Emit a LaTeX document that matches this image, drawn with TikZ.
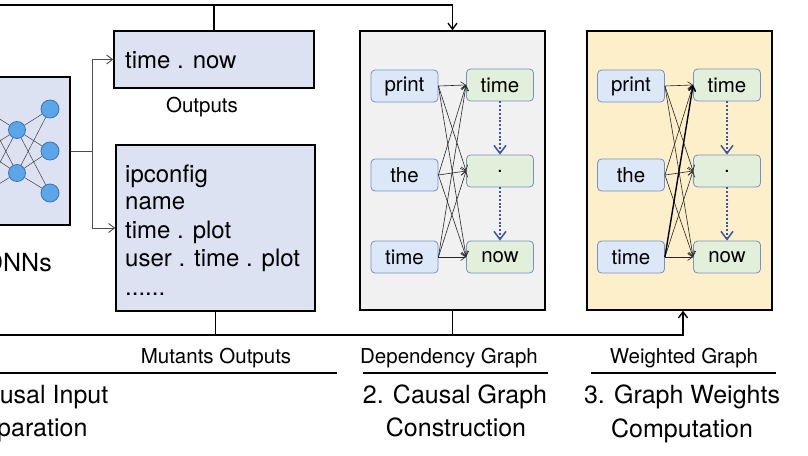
\documentclass[tikz,border=0pt]{standalone}
\usepackage{fontspec}
\setmainfont{TeX Gyre Heros}
\usetikzlibrary{arrows.meta}
\definecolor{boxblue}{HTML}{DCE2F2}
\definecolor{depgray}{HTML}{F1F1F1}
\definecolor{wyellow}{HTML}{FCEFC9}
\definecolor{lblue}{HTML}{DCE8F8}
\definecolor{lgreen}{HTML}{E2EFDA}
\definecolor{nborder}{HTML}{7890C8}
\definecolor{dotblue}{HTML}{3B56A6}
\definecolor{neuron}{HTML}{5AA6E8}
\definecolor{neuronb}{HTML}{3C74B4}
\begin{document}
\begin{tikzpicture}[x=1pt,y=-1pt,
  bigbox/.style={draw=black, line width=1.4pt, inner sep=0pt},
  wordnode/.style={draw=nborder, line width=0.8pt, rounded corners=4pt, minimum width=67pt, minimum height=32pt, inner sep=0pt, font=\fontsize{20.5}{22}\selectfont},
  lw/.style={wordnode, fill=lblue},
  rw/.style={wordnode, fill=lgreen},
  edgethin/.style={draw=black!85, line width=0.6pt, -{Straight Barb[length=5pt,width=7pt]}},
  edgethick/.style={draw=black, line width=1.4pt, -{Straight Barb[length=5pt,width=7pt]}},
  dotarrow/.style={draw=dotblue, line width=2.8pt, dash pattern=on 2pt off 1.8pt, -{Straight Barb[length=8pt,width=12pt,line width=1.5pt]}},
  conn/.style={draw=black!70, line width=0.9pt, -{Straight Barb[length=6pt,width=9pt]}},
  bus/.style={draw=black, line width=1.4pt},
  busarrow/.style={bus, -{Straight Barb[length=6pt,width=9pt]}},
  neur/.style={circle, draw=neuronb, fill=neuron, line width=0.8pt, inner sep=0pt},
  txt/.style={font=\fontsize{24}{28}\selectfont, inner sep=0pt},
  lbl/.style={font=\fontsize{20.5}{24}\selectfont, inner sep=0pt},
  ttl/.style={font=\fontsize{25}{33}\selectfont, inner sep=0pt},
]
\useasboundingbox (0,0) rectangle (808,455);
\clip (0,0) rectangle (808,455);
\fill[white] (0,0) rectangle (808,455);

% DNN box
\node[bigbox, fill=boxblue, minimum width=150pt, minimum height=148pt] (dnn) at (-5,151) {};
\foreach \i/\y in {1/109,2/151,3/193} \node[neur, minimum size=17pt] (a\i) at (-16,\y) {};
\foreach \i/\y in {1/130,2/173} \node[neur, minimum size=17pt] (h\i) at (17,\y) {};
\foreach \i/\y in {1/109,2/151,3/193} \node[neur, minimum size=18pt] (o\i) at (50,\y) {};
\foreach \i in {1,2,3} \foreach \j in {1,2} \draw[black!75, line width=0.5pt] (a\i) -- (h\j);
\foreach \i in {1,2} \foreach \j in {1,2,3} \draw[black!75, line width=0.5pt] (h\i) -- (o\j);
\node[ttl, anchor=base east] (dnnlbl) at (52,271) {DNNs};

% Output boxes
\node[bigbox, fill=boxblue, minimum width=200pt, minimum height=57pt] (outs) at (214,59.5) {};
\node[txt, anchor=base west] (outtxt) at (125,68) {time . now};
\node[lbl, anchor=base] (outlbl) at (202,112) {Outputs};
\node[bigbox, fill=boxblue, minimum width=199pt, minimum height=166pt] (mut) at (215.5,228) {};
\node[txt, anchor=base west] (m1) at (125,182) {ipconfig};
\node[txt, anchor=base west] (m2) at (125,209) {name};
\node[txt, anchor=base west] (m3) at (125,238) {time . plot};
\node[txt, anchor=base west] (m4) at (125,266) {user . time . plot};
\node[txt, anchor=base west] (m5) at (125,295) {......};

\draw[conn] (dnn.east) -- ++(22,0) |- (outs.west);
\draw[conn] (dnn.east) -- ++(22,0) |- (mut.west);

% Dependency graph box
\node[bigbox, fill=depgray, minimum width=185pt, minimum height=279pt] (dep) at (452.5,170.5) {};
\node[lw] (dl1) at (404.5,86) {print};
\node[lw] (dl2) at (404.5,175) {the};
\node[lw] (dl3) at (404.5,257) {time};
\node[rw] (dr1) at (500,85) {time};
\node[rw] (dr2) at (500,171) {.};
\node[rw] (dr3) at (500,257) {now};
\foreach \i in {1,2,3} \foreach \j in {1,2,3} \draw[edgethin] (dl\i.east) -- (dr\j.west);
\draw[dotarrow] (dr1.south) -- (dr2.north);
\draw[dotarrow] (dr2.south) -- (dr3.north);

% Weighted graph box
\node[bigbox, fill=wyellow, minimum width=185pt, minimum height=279pt] (wg) at (679.5,170.5) {};
\node[lw] (wl1) at (631,86) {print};
\node[lw] (wl2) at (631,175) {the};
\node[lw] (wl3) at (631,257) {time};
\node[rw] (wr1) at (727,85) {time};
\node[rw] (wr2) at (727,171) {.};
\node[rw] (wr3) at (727,257) {now};
\foreach \i/\j in {1/1,1/2,1/3,2/1,2/2,2/3,3/2,3/3} \draw[edgethin] (wl\i.east) -- (wr\j.west);
\draw[edgethick] (wl3.east) -- (wr1.west);
\draw[dotarrow] (wr1.south) -- (wr2.north);
\draw[dotarrow] (wr2.south) -- (wr3.north);

% top line
\coordinate (topstart) at (0,5);
\draw[busarrow] (topstart) -| (dep.north);
\draw[bus] (outs.north) -- (outs.north |- topstart);

% bottom bus
\coordinate (botstart) at (0,335);
\coordinate (wgin) at ([xshift=3.5pt]wg.south);
\draw[busarrow] (botstart) -| (wgin);
\draw[bus] (mut.south) -- (mut.south |- botstart);
\draw[bus] (dep.south) -- (dep.south |- botstart);

% bottom labels
\node[lbl, anchor=base] (l1) at (216,363) {Mutants Outputs};
\node[lbl, anchor=base] (l2) at (449,363) {Dependency Graph};
\node[lbl, anchor=base] (l3) at (684,363) {Weighted Graph};
\draw[line width=1.4pt] (0,373) -- (337,373);
\draw[line width=1.4pt] (363,373) -- (548,373);
\draw[line width=1.4pt] (591,373) -- (776,373);

\node[ttl, anchor=base] (t1a) at (23,403) {1. Causal Input};
\node[ttl, anchor=base] (t1b) at (23,436) {Preparation};
\node[ttl, anchor=base] (t2a) at (455,403) {2. Causal Graph};
\node[ttl, anchor=base] (t2b) at (456,436) {Construction};
\node[ttl, anchor=base] (t3a) at (682,403) {3. Graph Weights};
\node[ttl, anchor=base] (t3b) at (682,437) {Computation};
\end{tikzpicture}
\end{document}
